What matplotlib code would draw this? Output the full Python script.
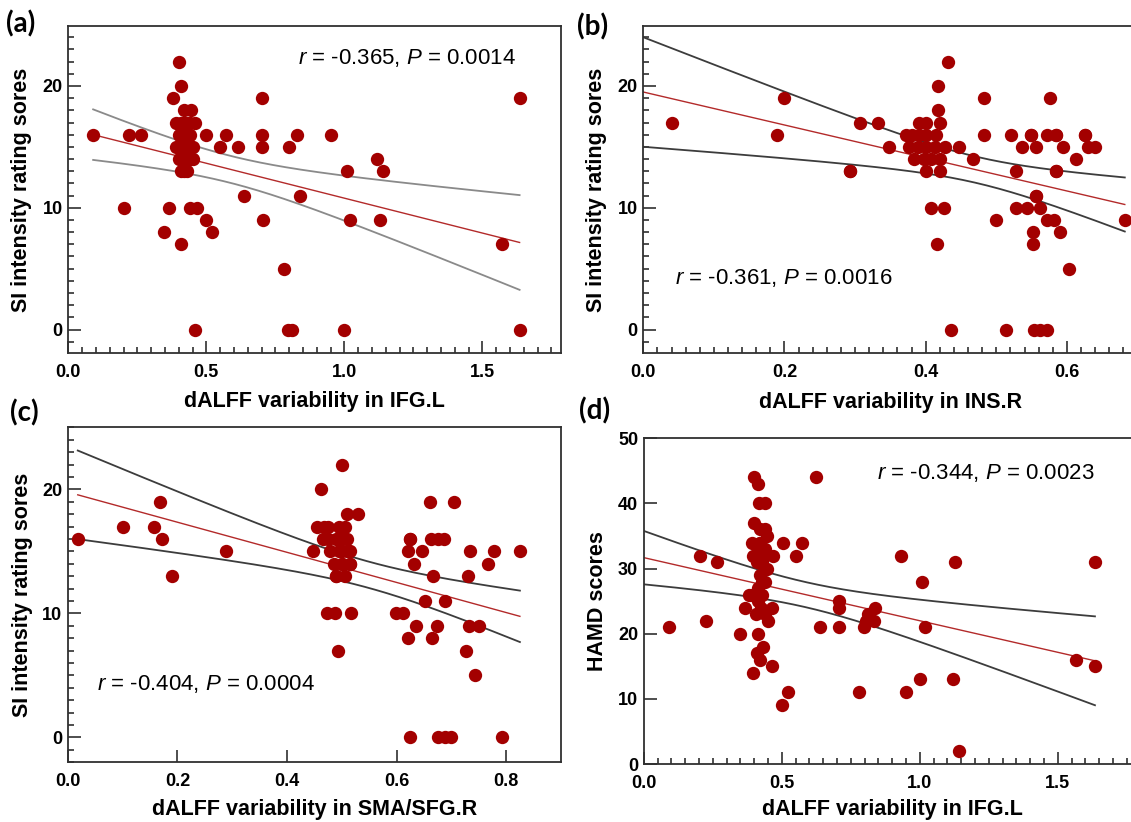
import numpy as np
import matplotlib as mpl

mpl.use("Agg")
import matplotlib.pyplot as plt
from matplotlib.ticker import MultipleLocator, NullLocator

mpl.rcParams.update(
    {
        "font.family": "Liberation Sans",
        "mathtext.fontset": "custom",
        "mathtext.rm": "Liberation Sans",
        "mathtext.it": "Liberation Sans:italic",
        "axes.linewidth": 1.3,
        "axes.edgecolor": "#303030",
    }
)

# ---- data (overlapping dots in the dense clusters are estimates) ----
# (a) SI rating vs dALFF variability in IFG.L
a_x = [0.09, 0.20, 0.22, 0.265, 0.345, 0.365, 0.38, 0.40, 0.41, 0.445, 0.39, 0.42, 0.46,
       0.40, 0.42, 0.44, 0.39, 0.41, 0.43, 0.45, 0.40, 0.42, 0.45, 0.42, 0.41,
       0.41, 0.43, 0.40, 0.42, 0.44, 0.41, 0.43, 0.44, 0.43, 0.41, 0.43, 0.42, 0.43, 0.44,
       0.41, 0.44, 0.465, 0.46, 0.50, 0.50, 0.52, 0.55, 0.57, 0.615, 0.635, 0.70, 0.70,
       0.70, 0.705, 0.78, 0.80, 0.795, 0.81, 0.83, 0.84, 0.95, 1.00, 1.01, 1.02, 1.12,
       1.14, 1.13, 1.57, 1.635, 1.635]
a_y = [16, 10, 16, 16, 8, 10, 19, 22, 20, 18, 17, 17, 17,
       16, 16, 16, 15, 15, 15, 15, 14, 14, 14, 13, 13,
       16, 16, 15, 15, 15, 14, 14, 14, 13, 17, 17, 18, 16, 17,
       7, 10, 10, 0, 16, 9, 8, 15, 16, 15, 11, 19, 16,
       15, 9, 5, 15, 0, 0, 16, 11, 16, 0, 13, 9, 14,
       13, 9, 7, 19, 0]

# (b) SI rating vs dALFF variability in INS.R
b_x = [0.04, 0.19, 0.20, 0.293, 0.307, 0.333, 0.348,
       0.372, 0.39, 0.40, 0.42, 0.38, 0.39, 0.40, 0.415, 0.377, 0.389, 0.40, 0.413, 0.427,
       0.384, 0.398, 0.408, 0.42, 0.40, 0.42,
       0.418, 0.418, 0.432, 0.407, 0.426, 0.416, 0.436, 0.447, 0.467, 0.482,
       0.482, 0.50, 0.514, 0.521, 0.528, 0.536, 0.528, 0.544, 0.549, 0.556,
       0.556, 0.562, 0.552, 0.552, 0.553, 0.562, 0.572, 0.576, 0.572, 0.585,
       0.594, 0.585, 0.572, 0.582, 0.59, 0.603, 0.613, 0.626, 0.63, 0.64, 0.682,
       0.626, 0.585, 0.549, 0.585, 0.556, 0.293]
b_y = [17, 16, 19, 13, 17, 17, 15,
       16, 17, 17, 17, 16, 16, 16, 16, 15, 15, 15, 15, 15,
       14, 14, 14, 14, 13, 13,
       20, 18, 22, 10, 10, 7, 0, 15, 14, 19,
       16, 9, 0, 16, 13, 15, 10, 10, 16, 15,
       11, 10, 8, 7, 0, 0, 0, 19, 16, 16,
       15, 13, 9, 9, 8, 5, 14, 16, 15, 15, 9,
       16, 16, 16, 13, 11, 13]

# (c) SI rating vs dALFF variability in SMA/SFG.R
c_x = [0.018, 0.10, 0.158, 0.169, 0.172, 0.19, 0.289, 0.447, 0.462, 0.455, 0.468, 0.465,
       0.478, 0.50, 0.472, 0.488, 0.517, 0.493,
       0.475, 0.495, 0.51, 0.53, 0.475, 0.49, 0.51, 0.495, 0.515, 0.50, 0.515, 0.49,
       0.505, 0.50, 0.50, 0.505, 0.485,
       0.66, 0.705, 0.625, 0.663, 0.675, 0.687, 0.621, 0.646, 0.734, 0.778, 0.825,
       0.631, 0.767, 0.666, 0.731, 0.652, 0.688, 0.598, 0.611, 0.635, 0.674, 0.732,
       0.751, 0.62, 0.664, 0.726, 0.743, 0.625, 0.675, 0.688, 0.70, 0.792,
       0.625, 0.50, 0.515, 0.49, 0.51]
c_y = [16, 17, 17, 19, 16, 13, 15, 15, 20, 17, 17, 16,
       15, 22, 10, 10, 10, 7,
       17, 17, 18, 18, 16, 16, 16, 15, 15, 14, 14, 13,
       13, 15, 16, 17, 14,
       19, 19, 16, 16, 16, 16, 15, 15, 15, 15, 15,
       14, 14, 13, 13, 11, 11, 10, 10, 9, 9, 9,
       9, 8, 8, 7, 5, 0, 0, 0, 0, 0,
       16, 14, 14, 13, 15]

# (d) HAMD vs dALFF variability in IFG.L
d_x = [0.09, 0.205, 0.225, 0.264, 0.349, 0.367, 0.382, 0.401, 0.415, 0.418, 0.44, 0.40,
       0.421, 0.44, 0.391, 0.446, 0.397, 0.433, 0.47, 0.415, 0.44, 0.446, 0.44, 0.42,
       0.415, 0.391, 0.415, 0.464, 0.408, 0.44, 0.451, 0.415, 0.433, 0.409, 0.421,
       0.464, 0.397, 0.43, 0.42, 0.43, 0.425, 0.42, 0.43, 0.41, 0.44, 0.43,
       0.503, 0.552, 0.575, 0.624, 0.523, 0.50, 0.637, 0.706, 0.706, 0.709, 0.781,
       0.798, 0.807, 0.813, 0.837, 0.833, 0.934, 0.951, 1.0, 1.01, 1.019, 1.127,
       1.122, 1.143, 1.568, 1.635, 1.635]
d_y = [21, 32, 22, 31, 20, 24, 26, 44, 43, 40, 40, 37,
       36, 36, 34, 35, 32, 32, 32, 33, 33, 30, 28, 29,
       27, 26, 25, 24, 23, 23, 22, 20, 18, 17, 16,
       15, 14, 31, 34, 26, 24, 34, 32, 31, 30, 28,
       34, 32, 34, 44, 11, 9, 21, 25, 24, 21, 11,
       21, 22, 23, 24, 22, 32, 11, 13, 28, 21, 31,
       13, 2, 16, 31, 15]

x_labels = ["dALFF variability in IFG.L", "dALFF variability in INS.R",
            "dALFF variability in SMA/SFG.R", "dALFF variability in IFG.L"]
y_labels = ["SI intensity rating sores", "SI intensity rating sores",
            "SI intensity rating sores", "HAMD scores"]
stats = ["$r$ = -0.365, $P$ = 0.0014", "$r$ = -0.361, $P$ = 0.0016",
         "$r$ = -0.404, $P$ = 0.0004", "$r$ = -0.344, $P$ = 0.0023"]
tags = ["(a)", "(b)", "(c)", "(d)"]

DOT = "#a30000"
FIT = "#b32a2a"
T975 = 1.994
W, H = 1131, 822


def fit_band(x, y, xs):
    # least-squares line with 95% confidence band of the mean
    x = np.asarray(x, float)
    y = np.asarray(y, float)
    n = len(x)
    slope, icpt = np.polyfit(x, y, 1)
    resid = y - (icpt + slope * x)
    s = np.sqrt(np.sum(resid ** 2) / (n - 2))
    sxx = np.sum((x - x.mean()) ** 2)
    se = s * np.sqrt(1.0 / n + (xs - x.mean()) ** 2 / sxx)
    yhat = icpt + slope * xs
    return yhat, yhat - T975 * se, yhat + T975 * se


def rect(left, top, right, bottom):
    return [left / W, 1 - bottom / H, (right - left) / W, (bottom - top) / H]


fig = plt.figure(figsize=(W / 100, H / 100), dpi=100, facecolor="white")

panels = [
    dict(x=a_x, y=a_y, box=rect(68.3, 25.7, 561, 353.3), xlim=(0, 1.785), ylim=(-1.95, 24.95),
         xmaj=0.5, xmin=0.05, ymaj=10, ymin=1, start=None, band="#8a8a8a",
         stat=(0.466, 0.900), ylab=-0.096, xlab=-0.148),
    dict(x=b_x, y=b_y, box=rect(643.3, 25.7, 643.3 + 0.7 * 706, 353.3), xlim=(0, 0.7),
         ylim=(-1.95, 24.95), xmaj=0.2, xmin=0.02, ymaj=10, ymin=1, start=0.0, band="#3c3c3c",
         stat=(0.064, 0.229), ylab=-0.094, xlab=-0.150),
    dict(x=c_x, y=c_y, box=rect(67.9, 427.3, 561, 762.3), xlim=(0, 0.9), ylim=(-2, 25),
         xmaj=0.2, xmin=None, ymaj=10, ymin=1, start=None, band="#3c3c3c",
         stat=(0.059, 0.235), ylab=-0.093, xlab=-0.142),
    dict(x=d_x, y=d_y, box=rect(643.7, 438.3, 643.7 + 1.8 * 276, 764), xlim=(0, 1.8), ylim=(0, 50),
         xmaj=0.5, xmin=0.05, ymaj=10, ymin=None, start=0.0, band="#3c3c3c",
         stat=(0.469, 0.892), ylab=-0.094, xlab=-0.141),
]

for i, p in enumerate(panels):
    ax = fig.add_axes(p["box"])
    x = np.asarray(p["x"], float)
    y = np.asarray(p["y"], float)
    x0 = x.min() if p["start"] is None else p["start"]
    xs = np.linspace(x0, x.max(), 200)
    yhat, lo, hi = fit_band(x, y, xs)
    ax.plot(xs, hi, color=p["band"], lw=1.3, zorder=2)
    ax.plot(xs, lo, color=p["band"], lw=1.3, zorder=2)
    ax.plot(xs, yhat, color=FIT, lw=1.0, zorder=2)
    ax.scatter(x, y, s=92, color=DOT, linewidths=0, zorder=3)

    ax.set_xlim(*p["xlim"])
    ax.set_ylim(*p["ylim"])
    ax.xaxis.set_major_locator(MultipleLocator(p["xmaj"]))
    ax.yaxis.set_major_locator(MultipleLocator(p["ymaj"]))
    ax.xaxis.set_minor_locator(MultipleLocator(p["xmin"]) if p["xmin"] else NullLocator())
    ax.yaxis.set_minor_locator(MultipleLocator(p["ymin"]) if p["ymin"] else NullLocator())
    ax.xaxis.set_major_formatter(mpl.ticker.FormatStrFormatter("%.1f"))
    ax.tick_params(which="both", direction="in", width=1.2, color="#303030", labelsize=13)
    ax.tick_params(which="major", length=9)
    ax.tick_params(which="minor", length=4.5)
    ax.tick_params(axis="x", pad=8)
    ax.tick_params(axis="y", pad=4)
    for lab in ax.get_xticklabels() + ax.get_yticklabels():
        lab.set_fontweight("bold")

    ax.set_xlabel(x_labels[i], fontsize=15.5, fontweight="bold", va="center")
    ax.set_ylabel(y_labels[i], fontsize=15.5, fontweight="bold", va="center")
    ax.xaxis.set_label_coords(0.5, p["xlab"])
    ax.yaxis.set_label_coords(p["ylab"], 0.5)

    ax.text(p["stat"][0], p["stat"][1], stats[i], transform=ax.transAxes, fontsize=16,
            ha="left", va="center")

tag_pos = [(6, 24), (577, 27), (10, 413), (579, 411)]
for tag, (px, py) in zip(tags, tag_pos):
    fig.text(px / W, 1 - py / H, tag, family="Lato", fontweight="bold", fontsize=20,
             ha="left", va="center")

fig.savefig("out.png", dpi=100, facecolor="white")
